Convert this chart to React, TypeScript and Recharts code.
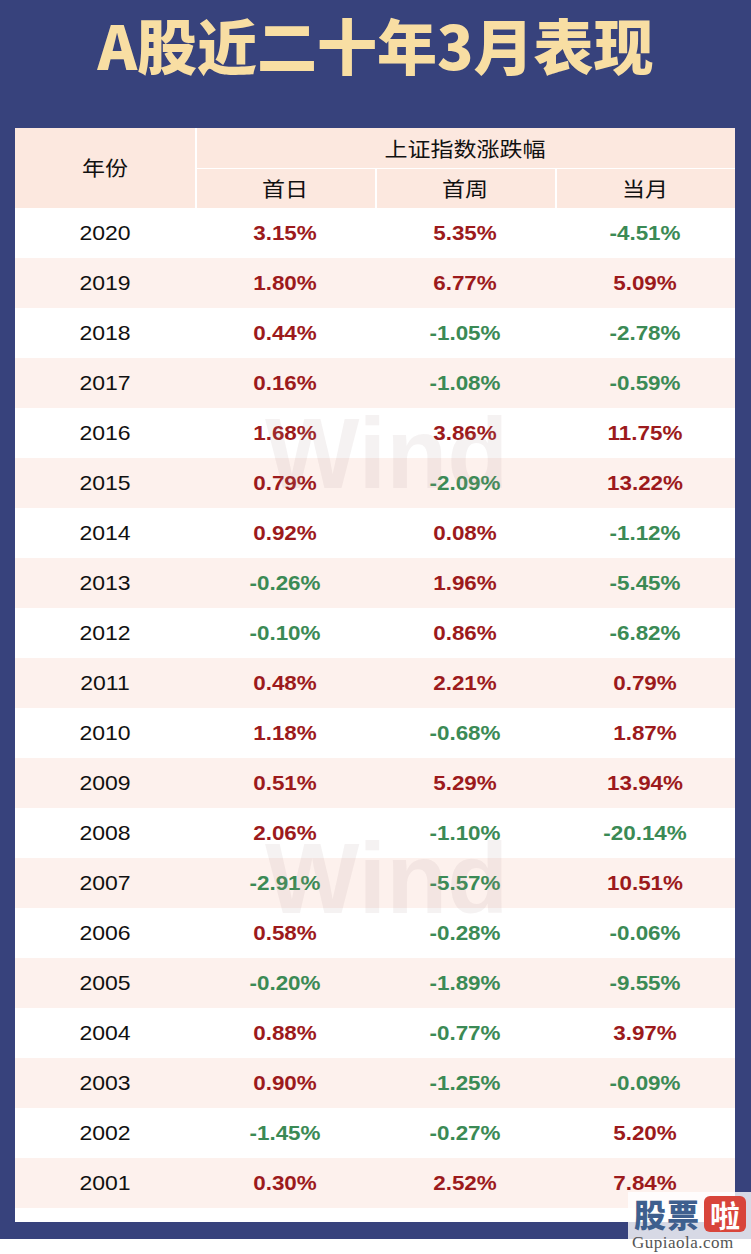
import { type CSSProperties } from 'react'
import { ScatterChart, Scatter, XAxis, YAxis, ReferenceArea } from 'recharts'

const YEARS = [
  '2020', '2019', '2018', '2017', '2016', '2015', '2014', '2013', '2012', '2011',
  '2010', '2009', '2008', '2007', '2006', '2005', '2004', '2003', '2002', '2001',
]
const FIRST_DAY = [3.15, 1.8, 0.44, 0.16, 1.68, 0.79, 0.92, -0.26, -0.1, 0.48, 1.18, 0.51, 2.06, -2.91, 0.58, -0.2, 0.88, 0.9, -1.45, 0.3]
const FIRST_WEEK = [5.35, 6.77, -1.05, -1.08, 3.86, -2.09, 0.08, 1.96, 0.86, 2.21, -0.68, 5.29, -1.1, -5.57, -0.28, -1.89, -0.77, -1.25, -0.27, 2.52]
const WHOLE_MONTH = [-4.51, 5.09, -2.78, -0.59, 11.75, 13.22, -1.12, -5.45, -6.82, 0.79, 1.87, 13.94, -20.14, 10.51, -0.06, -9.55, 3.97, -0.09, 5.2, 7.84]
const COLUMNS = ['年份', '首日', '首周', '当月']
const GROUP_TITLE = '上证指数涨跌幅'
const TITLE = 'A股近二十年3月表现'

const NAVY = '#37427c'
const HEADER_BG = '#fce8df'
const STRIPE = '#fdf1ed'
const UP = '#9c1a1c'
const DOWN = '#3b8a55'

const yearPoints = YEARS.map((year) => ({ col: COLUMNS[0], year, label: year }))
const valuePoints = (col: string, values: number[]) =>
  YEARS.map((year, i) => ({ col, year, value: values[i] }))

const numFont = '"Liberation Sans", Arial, sans-serif'
const cjkFont = '"Noto Sans CJK SC", "Noto Sans", sans-serif'

function YearCell(props: any) {
  const { cx, cy, payload } = props
  return (
    <text
      transform={`translate(${cx},${cy + 7}) scale(1.15,1)`}
      textAnchor="middle"
      fontFamily={numFont}
      fontSize={20}
      fill="#111"
    >
      {payload.label}
    </text>
  )
}

function ValueCell(props: any) {
  const { cx, cy, payload } = props
  const v: number = payload.value
  return (
    <text
      transform={`translate(${cx},${cy + 7}) scale(1.15,1)`}
      textAnchor="middle"
      fontFamily={numFont}
      fontWeight="bold"
      fontSize={19.5}
      fill={v < 0 ? DOWN : UP}
    >
      {v.toFixed(2)}%
    </text>
  )
}

const headerText: CSSProperties = {
  position: 'absolute',
  fontFamily: cjkFont,
  fontSize: 20,
  color: '#111',
  textAlign: 'center',
  transform: 'scaleX(1.15)',
  lineHeight: '20px',
}

const watermark: CSSProperties = {
  position: 'absolute',
  left: 265,
  fontFamily: numFont,
  fontWeight: 'bold',
  fontSize: 100,
  lineHeight: '100px',
  color: 'rgba(170,150,150,0.12)',
  pointerEvents: 'none',
}

export default function App() {
  return (
    <div style={{ position: 'absolute', left: 0, top: 0, width: 751, height: 1254, background: '#fff', overflow: 'hidden' }}>
      <div style={{ position: 'absolute', left: 0, top: 0, width: 751, height: 1239, background: NAVY }} />
      <div
        style={{
          position: 'absolute', left: 0, top: 0, width: 751, height: 88,
          textAlign: 'center', fontFamily: cjkFont, fontWeight: 900, fontSize: 60,
          lineHeight: '88px', color: '#f8dea3',
        }}
      >
        {TITLE}
      </div>

      <div style={{ position: 'absolute', left: 15, top: 128, width: 720, height: 1094, background: '#fff' }}>
        {/* header */}
        <div style={{ position: 'absolute', left: 0, top: 0, width: 720, height: 80, background: HEADER_BG }} />
        <div style={{ position: 'absolute', left: 180, top: 0, width: 2, height: 80, background: '#fff' }} />
        <div style={{ position: 'absolute', left: 180, top: 40, width: 540, height: 1, background: '#fff' }} />
        <div style={{ position: 'absolute', left: 360, top: 40, width: 2, height: 40, background: '#fff' }} />
        <div style={{ position: 'absolute', left: 540, top: 40, width: 2, height: 40, background: '#fff' }} />
        <div style={{ ...headerText, left: 0, top: 30, width: 180 }}>{COLUMNS[0]}</div>
        <div style={{ ...headerText, left: 180, top: 11, width: 540 }}>{GROUP_TITLE}</div>
        {COLUMNS.slice(1).map((c, i) => (
          <div key={c} style={{ ...headerText, left: 180 * (i + 1), top: 51, width: 180 }}>{c}</div>
        ))}

        <div style={{ position: 'absolute', left: 0, top: 80 }}>
          <ScatterChart width={720} height={1000} margin={{ top: 0, right: 0, bottom: 0, left: 0 }}>
            <XAxis type="category" dataKey="col" allowDuplicatedCategory={false} hide />
            <YAxis type="category" dataKey="year" allowDuplicatedCategory={false} reversed hide />
            {YEARS.filter((_, i) => i % 2 === 1).map((y) => (
              <ReferenceArea key={y} y1={y} y2={y} fill={STRIPE} fillOpacity={1} stroke="none" ifOverflow="visible" />
            ))}
            <Scatter data={yearPoints} shape={YearCell} isAnimationActive={false} />
            <Scatter data={valuePoints(COLUMNS[1], FIRST_DAY)} shape={ValueCell} isAnimationActive={false} />
            <Scatter data={valuePoints(COLUMNS[2], FIRST_WEEK)} shape={ValueCell} isAnimationActive={false} />
            <Scatter data={valuePoints(COLUMNS[3], WHOLE_MONTH)} shape={ValueCell} isAnimationActive={false} />
          </ScatterChart>
        </div>
      </div>

      <div style={{ ...watermark, top: 403 }}>Wind</div>
      <div style={{ ...watermark, top: 828 }}>Wind</div>

      {/* site stamp */}
      <div style={{ position: 'absolute', left: 628, top: 1192, width: 123, height: 62, background: 'rgba(255,255,255,0.8)' }} />
      <div style={{ position: 'absolute', left: 634, top: 1194, fontFamily: cjkFont, fontWeight: 900, fontSize: 32, lineHeight: '38px', color: '#3e5f8e', letterSpacing: 1 }}>
        股票
      </div>
      <div style={{ position: 'absolute', left: 704, top: 1196, width: 42, height: 36, borderRadius: 6, background: '#d8453b', color: '#fff', fontFamily: cjkFont, fontWeight: 700, fontSize: 30, lineHeight: '36px', textAlign: 'center' }}>
        啦
      </div>
      <div style={{ position: 'absolute', left: 632, top: 1233, fontFamily: '"Liberation Serif", serif', fontSize: 17, lineHeight: '20px', color: '#555', letterSpacing: 0.5 }}>
        Gupiaola.com
      </div>
    </div>
  )
}
